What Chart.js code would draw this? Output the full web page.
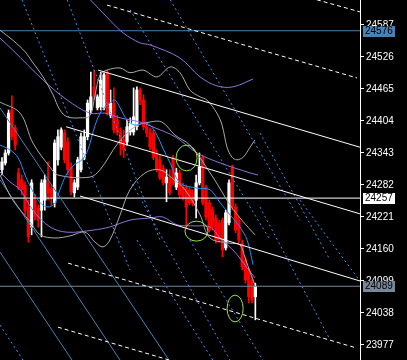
<!DOCTYPE html>
<html><head><meta charset="utf-8">
<script src="https://cdn.jsdelivr.net/npm/chart.js@4.4.1/dist/chart.umd.min.js"></script>
<style>html,body{margin:0;padding:0;background:#000;overflow:hidden}#wrap{width:407px;height:360px}</style>
</head><body><div id="wrap"><canvas id="c" width="407" height="360"></canvas></div>
<script>
const opens = [24311,24324,24343,24425,24391,24305,24292,24282,24240,24202,24253,24238,24234,24253,24286,24276,24248,24330,24354,24381,24364,24316,24267,24278,24311,24335,24374,24425,24469,24429,24431,24429,24497,24415,24438,24406,24383,24368,24364,24383,24383,24393,24463,24444,24393,24381,24381,24339,24330,24314,24286,24297,24334,24278,24305,24278,24278,24273,24267,24253,24286,24335,24278,24248,24234,24219,24210,24215,24162,24210,24314,24240,24215,24171,24139,24120,24101,24069];
const highs = [24334,24349,24425,24452,24396,24314,24301,24288,24253,24292,24263,24244,24292,24301,24326,24282,24368,24387,24391,24387,24372,24324,24292,24335,24381,24387,24444,24497,24501,24454,24497,24496,24501,24463,24467,24415,24391,24387,24406,24410,24467,24469,24467,24454,24402,24391,24387,24349,24339,24320,24311,24311,24339,24314,24311,24286,24282,24278,24273,24301,24343,24339,24282,24253,24240,24225,24215,24219,24234,24292,24320,24246,24221,24177,24145,24124,24107,24095];
const lows = [24301,24320,24339,24368,24349,24273,24263,24225,24173,24187,24215,24202,24183,24234,24253,24244,24240,24320,24349,24324,24301,24263,24259,24273,24307,24330,24368,24419,24444,24425,24425,24425,24415,24410,24381,24377,24339,24334,24358,24377,24377,24387,24435,24387,24374,24349,24330,24307,24292,24282,24250,24263,24282,24273,24257,24253,24200,24244,24242,24219,24282,24244,24215,24192,24196,24171,24173,24145,24158,24206,24234,24191,24171,24120,24095,24057,24057,24025];
const closes = [24326,24343,24419,24374,24358,24276,24273,24234,24183,24286,24221,24215,24286,24292,24267,24259,24362,24374,24387,24330,24311,24269,24286,24330,24374,24374,24438,24450,24450,24450,24482,24492,24419,24438,24387,24383,24358,24349,24393,24400,24412,24463,24444,24393,24381,24354,24335,24311,24295,24286,24297,24267,24286,24305,24263,24257,24240,24248,24248,24286,24316,24248,24221,24196,24202,24177,24177,24158,24229,24286,24240,24196,24177,24126,24101,24069,24063,24089];

const tickValues = [24587,24526,24465,24404,24343,24282,24221,24160,24099,24038,23977];
const levelValues = [24576,24257,24089];

const maFast = [[-0.6,24358],[2.4,24349],[4.9,24334],[7.0,24301],[9.1,24273],[11.6,24248],[14.0,24240],[16.1,24248],[17.6,24273],[19.5,24301],[21.9,24320],[24.3,24330],[26.1,24349],[28.3,24396],[30.4,24425],[32.8,24438],[34.3,24444],[35.9,24429],[38.0,24406],[40.4,24396],[42.9,24400],[45.0,24396],[47.1,24377],[48.9,24352],[51.1,24324],[54.1,24286],[59.3,24276],[63.2,24273],[66.3,24248],[69.3,24225],[72.3,24202],[74.5,24177],[76.3,24130]];
const bbUpper = [[-0.6,24577],[3.3,24558],[7.0,24536],[9.4,24515],[12.5,24488],[15.5,24454],[17.6,24425],[19.8,24412],[23.7,24410],[26.7,24414],[28.3,24454],[29.8,24492],[31.9,24501],[35.9,24505],[38.9,24496],[42.9,24501],[47.1,24488],[51.1,24507],[54.1,24496],[57.1,24463],[60.2,24450],[62.3,24444],[65.3,24419],[66.9,24396],[68.4,24354],[69.9,24335],[71.4,24330],[73.3,24335],[75.4,24354],[76.9,24368]];
const bbMiddle = [[-0.6,24440],[5.5,24419],[9.4,24362],[14.6,24316],[17.0,24301],[26.7,24297],[29.8,24311],[35.3,24362],[40.4,24393],[45.0,24402],[48.6,24402],[52.6,24377],[57.1,24358],[64.1,24297],[69.3,24244],[73.3,24212],[76.9,24187]];
const bbLower = [[-0.6,24301],[3.3,24253],[8.5,24212],[11.6,24187],[16.1,24181],[20.7,24185],[25.2,24192],[28.3,24173],[30.7,24164],[32.8,24177],[35.9,24225],[38.9,24273],[43.5,24305],[48.0,24311],[51.7,24295],[55.6,24273],[60.2,24225],[63.2,24181],[69.3,24171],[72.3,24168],[73.9,24143],[75.4,24116],[76.9,24091]];
const envUpper = [[-0.6,24562],[3.3,24539],[12.5,24482],[19.8,24444],[26.7,24419],[31.3,24419],[35.9,24410],[41.9,24402],[46.5,24391],[52.6,24374],[59.3,24343],[66.3,24324],[75.4,24305],[77.8,24301]];
const envLower = [[-0.6,24307],[2.4,24288],[5.5,24273],[9.4,24234],[14.6,24202],[19.8,24192],[27.7,24196],[32.8,24202],[38.9,24215],[45.0,24219],[48.9,24221],[53.2,24206],[58.7,24204],[63.2,24202],[66.3,24181],[70.8,24154],[74.5,24124],[76.9,24105]];
const envTop = [[26.1,24640],[32.8,24596],[36.8,24572],[41.9,24553],[45.0,24549],[54.1,24524],[60.2,24488],[65.3,24471],[70.2,24469],[76.3,24484]];

const channelLines = [[[29.2,24501],[108.8,24354]],[[19.5,24393],[108.8,24227]],[[23.7,24261],[108.8,24099]]];
const dashedLines = [[[95.7,24635],[108.8,24612]],[[31.9,24625],[107.9,24486]],[[20.1,24133],[107.9,23971]],[[17.0,24011],[52.6,23945]]];
const blueSolidLines = [[[-0.6,24154],[21.3,23948]],[[-0.6,24292],[35.9,23948]],[[-0.6,24429],[51.1,23945]]];
const blueDottedLines = [[[6.1,24635],[38.9,24120]],[[19.8,24635],[48.0,24177]],[[38.9,24616],[81.5,24177]],[[51.1,24635],[90.6,24215]],[[38.9,24292],[69.3,23948]],[[41.0,24177],[64.1,23948]],[[57.1,24177],[79.3,23948]],[[78.4,24381],[99.7,24139]],[[90.6,24253],[108.8,24099]],[[78.4,24240],[99.7,23987]],[[-0.6,24015],[6.4,23948]]];
const ellipseX1 = [52.9,55.6,68.4];
const ellipseX2 = [59.3,62.6,73.3];
const ellipseTop = [24358,24213,24072];
const ellipseBottom = [24309,24175,24021];

const idx = opens.map((_, i) => i);
const isUp = i => closes[i] >= opens[i];
const pts = arr => arr.map(p => ({x: p[0], y: p[1]}));
const datasets = [];
function lineDs(arr, color, dash, tension, order) {
  return {type: 'line', data: pts(arr), borderColor: color, borderWidth: 1, borderDash: dash || [], pointRadius: 0, tension: tension || 0, order: order || 1, fill: false};
}
const levelColors = ['#4682B4', '#ffffff', '#778899'];
levelValues.forEach((v, k) => datasets.push(lineDs([[-1, v], [110, v]], levelColors[k], [], 0, 5)));
blueSolidLines.forEach(l => datasets.push(lineDs(l, '#4682B4', [], 0, 4)));
blueDottedLines.forEach(l => datasets.push(lineDs(l, '#3A94F0', [2, 3], 0, 4)));
datasets.push(lineDs(bbUpper, '#AAAAAA', [], 0.35, 3));
datasets.push(lineDs(bbMiddle, '#AAAAAA', [], 0.35, 3));
datasets.push(lineDs(bbLower, '#AAAAAA', [], 0.35, 3));
datasets.push(lineDs(envUpper, '#9370DB', [], 0.35, 3));
datasets.push(lineDs(envLower, '#9370DB', [], 0.35, 3));
datasets.push(lineDs(envTop, '#9370DB', [], 0.35, 3));
datasets.push(lineDs(maFast, '#1E90FF', [], 0.35, 2));
channelLines.forEach(l => datasets.push(lineDs(l, '#ffffff', [], 0, 1)));
dashedLines.forEach(l => datasets.push(lineDs(l, '#ffffff', [4, 3], 0, 1)));
datasets.push({type: 'bar', data: idx.map(i => ({x: i, y: [lows[i], highs[i]]})), backgroundColor: idx.map(i => isUp(i) ? '#ffffff' : '#ff0000'), barThickness: 1, grouped: false, order: 9, borderWidth: 0});
datasets.push({type: 'bar', data: idx.map(i => ({x: i, y: [opens[i], closes[i]]})), backgroundColor: idx.map(i => isUp(i) ? '#ffffff' : '#ff0000'), barThickness: 2.6, grouped: false, order: 8, borderWidth: 0});

const overlay = {
  id: 'overlay',
  afterDatasetsDraw(chart) {
    const {ctx, scales: {x, y}} = chart;
    ctx.save();
    ctx.strokeStyle = '#96E632';
    ctx.lineWidth = 1;
    for (let k = 0; k < ellipseX1.length; k++) {
      const x1 = x.getPixelForValue(ellipseX1[k]), x2 = x.getPixelForValue(ellipseX2[k]);
      const y1 = y.getPixelForValue(ellipseTop[k]), y2 = y.getPixelForValue(ellipseBottom[k]);
      ctx.beginPath();
      ctx.ellipse((x1 + x2) / 2, (y1 + y2) / 2, (x2 - x1) / 2, (y2 - y1) / 2, 0, 0, Math.PI * 2);
      ctx.stroke();
    }
    ctx.restore();
  },
  afterDraw(chart) {
    const {ctx, scales: {y}} = chart;
    const bg = ['#4682B4', '#ffffff', '#778899'];
    ctx.save();
    ctx.font = '10px "Liberation Sans", Arial, sans-serif';
    ctx.textBaseline = 'middle';
    ctx.textAlign = 'left';
    levelValues.forEach((v, k) => {
      const py = Math.round(y.getPixelForValue(v));
      ctx.fillStyle = bg[k];
      ctx.fillRect(y.left + 3, py - 5, 32, 11);
      ctx.fillStyle = '#000000';
      ctx.fillText(String(v), y.left + 5, py + 0.5);
    });
    ctx.restore();
  }
};

new Chart(document.getElementById('c'), {
  type: 'bar',
  data: {datasets},
  options: {
    responsive: false, animation: false, devicePixelRatio: 1,
    layout: {padding: 0},
    plugins: {legend: {display: false}, tooltip: {enabled: false}},
    scales: {
      x: {type: 'linear', display: false, min: -0.608, max: 108.81, offset: false},
      y: {
        position: 'right', min: 23948.4, max: 24634.6,
        afterBuildTicks: s => { s.ticks = tickValues.map(v => ({value: v})); },
        afterFit: s => { s.width = 47; s.paddingTop = 0; s.paddingBottom = 0; },
        ticks: {color: '#ffffff', font: {family: '"Liberation Sans", Arial, sans-serif', size: 10}, padding: 2, autoSkip: false, callback: v => String(v)},
        grid: {drawOnChartArea: false, color: '#ffffff', tickLength: 4, tickWidth: 1},
        border: {color: '#ffffff', width: 1}
      }
    }
  },
  plugins: [overlay]
});
</script>
</body></html>
